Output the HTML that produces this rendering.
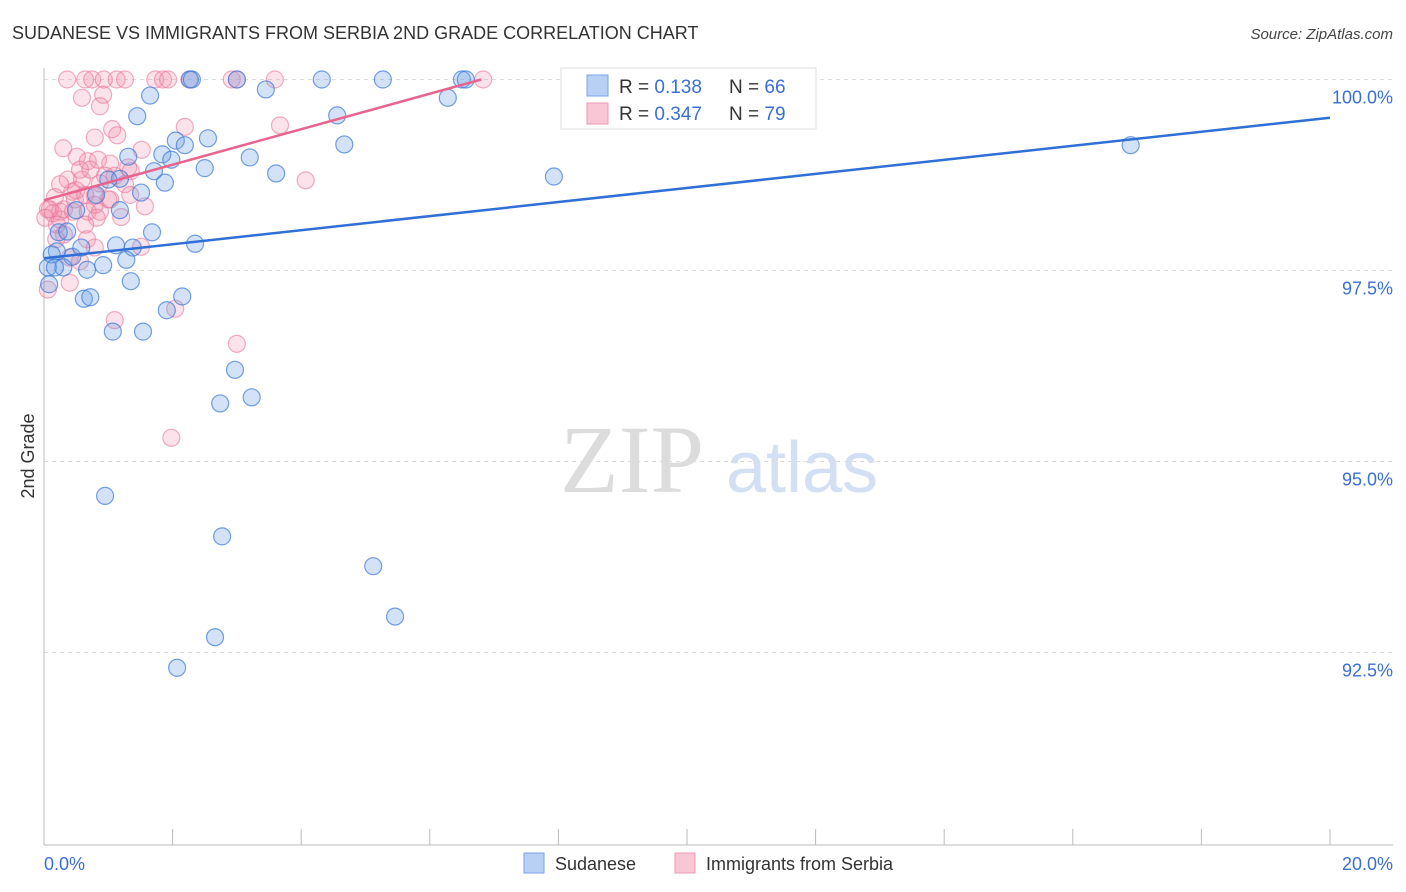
<!DOCTYPE html>
<html><head><meta charset="utf-8">
<style>
body{margin:0;background:#fff;font-family:"Liberation Sans",sans-serif;}
svg{display:block}
</style></head>
<body>
<svg id="chart" width="1406" height="892" viewBox="0 0 1406 892">
<text x="12" y="39" font-size="18" fill="#333">SUDANESE VS IMMIGRANTS FROM SERBIA 2ND GRADE CORRELATION CHART</text>
<text x="1393" y="39" font-size="15" fill="#444" font-style="italic" text-anchor="end">Source: ZipAtlas.com</text>
<text x="632" y="492" font-size="96" fill="#dcdcdc" font-family="Liberation Serif,serif" text-anchor="middle">ZIP</text>
<text x="802" y="492" font-size="72" fill="#d3e0f3" text-anchor="middle">atlas</text>
<g id="grid"></g>
<g id="axes"></g>
<g id="points"></g>
<g id="lines"></g>
<text transform="translate(34,456) rotate(-90)" font-size="18" fill="#333" text-anchor="middle">2nd Grade</text>
<text x="44" y="870" font-size="18" fill="#3a6fd8">0.0%</text>
<text x="1393" y="870" font-size="18" fill="#3a6fd8" text-anchor="end">20.0%</text>
<g>
<rect x="561" y="68" width="255" height="61" fill="#fff" stroke="#ddd"/>
<rect x="587" y="75" width="21" height="21" fill="#b8d0f4" stroke="#7aa3e6"/>
<rect x="587" y="103" width="21" height="21" fill="#f9c6d5" stroke="#ec9ab2"/>
<text x="619" y="93" font-size="19" fill="#333">R = <tspan fill="#3a6fd8"> 0.138</tspan></text>
<text x="729" y="93" font-size="19" fill="#333">N = <tspan fill="#3a6fd8">66</tspan></text>
<text x="619" y="120" font-size="19" fill="#333">R = <tspan fill="#3a6fd8">0.347</tspan></text>
<text x="729" y="120" font-size="19" fill="#333">N = <tspan fill="#3a6fd8">79</tspan></text>
</g>
<g>
<rect x="524" y="853" width="20" height="20" fill="#b8d0f4" stroke="#7aa3e6"/>
<text x="555" y="870" font-size="18" fill="#333">Sudanese</text>
<rect x="675" y="853" width="20" height="20" fill="#f9c6d5" stroke="#ec9ab2"/>
<text x="706" y="870" font-size="18" fill="#333">Immigrants from Serbia</text>
</g>
</svg>
<script>
const yTicks=[100,97.5,95,92.5];
const yTickLabels=["100.0%","97.5%","95.0%","92.5%"];
const sudaneseX=[1.65,1.45,2.05,2.55,2.19,1.84,1.31,3.20,1.98,2.50,1.71,1.18,1.00,1.88,1.51,0.81,1.18,0.50,3.61,4.67,4.56,3.45,4.32,5.27,3.00,2.27,6.50,6.28,7.93,16.90,1.68,2.35,1.12,1.38,0.23,0.36,0.20,0.44,0.67,0.92,1.28,0.30,0.06,1.35,0.62,0.72,2.15,1.91,1.07,1.54,2.97,2.74,3.23,0.95,2.77,5.12,5.46,2.66,2.07,0.08,0.12,10.14,6.56,0.17,0.58,2.30];
const sudaneseY=[99.79,99.52,99.20,99.23,99.14,99.02,98.99,98.98,98.95,98.84,98.80,98.70,98.69,98.65,98.52,98.49,98.29,98.29,98.77,99.15,99.53,99.87,100,100,100,100,100,99.76,98.73,99.14,98.00,97.85,97.83,97.80,98.00,98.01,97.75,97.68,97.51,97.57,97.64,97.54,97.54,97.36,97.13,97.15,97.16,96.98,96.70,96.70,96.20,95.76,95.84,94.55,94.02,93.63,92.97,92.70,92.30,97.32,97.71,99.48,100,97.54,97.80,100];
const serbiaX=[0.36,0.64,0.75,0.93,1.13,1.26,1.73,1.85,1.93,2.26,2.92,3.00,3.59,6.83,8.44,0.59,0.92,0.87,3.67,2.19,0.79,1.06,1.14,1.52,0.30,0.51,0.68,0.84,1.03,1.31,1.35,4.07,0.37,0.59,0.87,1.10,0.44,0.17,0.79,1.03,1.57,0.25,0.06,0.14,0.31,0.45,0.68,0.87,0.82,1.00,0.25,0.64,0.31,0.67,0.79,1.51,0.40,0.56,2.04,1.10,3.00,1.98,0.40,0.06,0.09,0.02,0.25,0.56,0.72,0.95,1.26,0.48,0.64,0.79,0.19,1.34,0.20,0.50,1.20];
const serbiaY=[100,100,100,100,100,100,100,100,100,100,100,100,100,100,100,99.76,99.80,99.65,99.40,99.38,99.24,99.35,99.27,99.08,99.10,98.99,98.93,98.95,98.90,98.85,98.80,98.68,98.69,98.69,98.64,98.74,98.53,98.46,98.48,98.43,98.34,98.27,98.30,98.25,98.30,98.27,98.27,98.27,98.19,98.43,98.17,98.10,97.97,97.91,97.80,97.81,97.67,97.62,97.00,96.85,96.54,95.31,97.34,97.25,98.30,98.19,98.63,98.82,98.82,98.74,98.63,98.43,98.49,98.36,97.91,98.49,98.10,98.55,98.20];
const sudaneseLineX=[0,20], sudaneseLineY=[97.66,99.50];
const serbiaLineX=[0,6.8], serbiaLineY=[98.42,100.0];

const X0=44,X1=1330,Y0=79.5,PX=76.4;
const sx=v=>X0+(v/20)*(X1-X0);
const sy=v=>Y0+(100-v)*PX;
const NS="http://www.w3.org/2000/svg";
function mk(tag,attrs,parent){const e=document.createElementNS(NS,tag);for(const k in attrs)e.setAttribute(k,attrs[k]);parent.appendChild(e);return e;}
const grid=document.getElementById('grid'),axes=document.getElementById('axes'),pts=document.getElementById('points'),lines=document.getElementById('lines');
yTicks.forEach((t,i)=>{
  const l=mk('line',{x1:X0,x2:1393,y1:sy(t),y2:sy(t),stroke:'#dcdcdc','stroke-dasharray':'4,4'},grid);
  
  
  const tx=mk('text',{x:1393,y:sy(t)+24,'font-size':18,fill:'#3a6fd8','text-anchor':'end'},grid);
  tx.textContent=yTickLabels[i];
  
  
});
let a=mk('line',{x1:X0,x2:X0,y1:68,y2:845,stroke:'#bbb'},axes);


a=mk('line',{x1:X0,x2:1393,y1:845,y2:845,stroke:'#bbb'},axes);


for(let i=1;i<=10;i++){
  const t=mk('line',{x1:sx(i*2),x2:sx(i*2),y1:829,y2:845,stroke:'#bbb'},axes);
  
  
}
serbiaX.forEach((x,i)=>{
  const c=mk('circle',{cx:sx(x),cy:sy(serbiaY[i]),r:8.5,fill:'rgba(243,140,170,0.25)',stroke:'rgba(232,120,155,0.6)','stroke-width':1.2},pts);
  
  
});
sudaneseX.forEach((x,i)=>{
  const c=mk('circle',{cx:sx(x),cy:sy(sudaneseY[i]),r:8.5,fill:'rgba(110,160,230,0.3)',stroke:'rgba(60,120,215,0.7)','stroke-width':1.2},pts);
  
  
});
let ln=mk('line',{x1:sx(sudaneseLineX[0]),y1:sy(sudaneseLineY[0]),x2:sx(sudaneseLineX[1]),y2:sy(sudaneseLineY[1]),stroke:'#2f6fd6','stroke-width':2.5},lines);


ln=mk('line',{x1:sx(serbiaLineX[0]),y1:sy(serbiaLineY[0]),x2:sx(serbiaLineX[1]),y2:sy(serbiaLineY[1]),stroke:'#e8648e','stroke-width':2.5},lines);


</script>
</body></html>
